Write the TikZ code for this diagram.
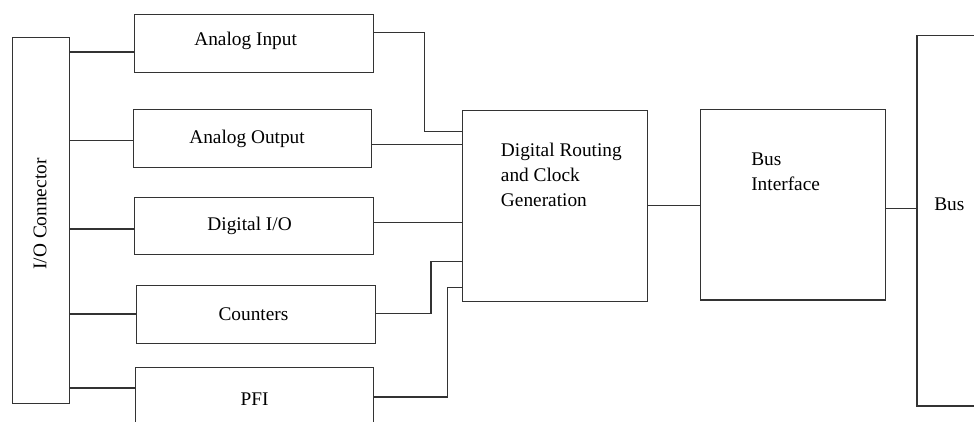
\documentclass[tikz,border=0pt]{standalone}
\usepackage{fontspec}
\setmainfont{Liberation Serif}
\begin{document}
\begin{tikzpicture}[x=0.75pt,y=-0.75pt,
  box/.style={draw=black!80, line width=0.9pt, inner sep=0pt, anchor=north west, font=\fontsize{14.5}{18.75}\selectfont},
  txt/.style={inner sep=0pt, font=\fontsize{14.5}{18.75}\selectfont},
  wire/.style={draw=black!80, line width=0.9pt}]
\useasboundingbox (0,0) rectangle (974,421);
\clip (0,0) rectangle (974,421);
% boxes
\node[box, minimum width=42.75pt, minimum height=274.5pt] (io) at (12,37) {};
\node[txt, rotate=90] (iot) at (40,214) {I/O Connector};
\node[box, minimum width=179.25pt, minimum height=43.5pt,
  label={[txt, xshift=-6pt, yshift=2pt]center:Analog Input}] (ai) at (133.5,14) {};
\node[box, minimum width=178.9pt, minimum height=43.5pt,
  label={[txt, xshift=-4pt]center:Analog Output}] (ao) at (132.5,109) {};
\node[box, minimum width=179.25pt, minimum height=43.1pt,
  label={[txt, xshift=-3pt]center:Digital I/O}] (dio) at (133.5,196.5) {};
\node[box, minimum width=179.25pt, minimum height=43.5pt,
  label={[txt, xshift=-2pt]center:Counters}] (cnt) at (136,285) {};
\node[box, minimum width=178.5pt, minimum height=43.5pt,
  label={[txt, yshift=-2pt]center:PFI}] (pfi) at (135,367) {};
\node[box, minimum width=138.75pt, minimum height=143pt] (dr) at (461.7,110) {};
\node[txt, anchor=north west, align=left] (drt) at (500.7,143) {Digital Routing\\and Clock\\Generation};
\node[box, minimum width=138.75pt, minimum height=143pt] (bi) at (700,108.7) {};
\node[txt, anchor=north west, align=left] (bit) at (751,153) {Bus\\Interface};
\node[box, minimum width=60pt, minimum height=277.95pt] (bus) at (916.3,34.7) {};
\node[txt, anchor=west] (bust) at (934,204) {Bus};
% helper coordinates
\coordinate (h1) at (0,52);
\coordinate (h2) at (0,140.7);
\coordinate (h3) at (0,229);
\coordinate (h4) at (0,314);
\coordinate (h5) at (0,388);
\coordinate (a1) at (0,32.3);
\coordinate (a2) at (424.3,131.7);
\coordinate (b1) at (0,144.3);
\coordinate (d1) at (0,222.3);
\coordinate (c1) at (0,313.7);
\coordinate (c2) at (431,261.3);
\coordinate (p1) at (0,397);
\coordinate (p2) at (447.3,287.3);
\coordinate (r1) at (0,205.7);
\coordinate (s1) at (0,208.3);
% connectors from I/O connector
\draw[wire] (io.east |- h1) -- (ai.west |- h1);
\draw[wire] (io.east |- h2) -- (ao.west |- h2);
\draw[wire] (io.east |- h3) -- (dio.west |- h3);
\draw[wire] (io.east |- h4) -- (cnt.west |- h4);
\draw[wire] (io.east |- h5) -- (pfi.west |- h5);
% connectors to digital routing
\draw[wire] (ai.east |- a1) -| (a2) -- (dr.west |- a2);
\draw[wire] (ao.east |- b1) -- (dr.west |- b1);
\draw[wire] (dio.east |- d1) -- (dr.west |- d1);
\draw[wire] (cnt.east |- c1) -| (c2) -- (dr.west |- c2);
\draw[wire] (pfi.east |- p1) -| (p2) -- (dr.west |- p2);
% to bus
\draw[wire] (dr.east |- r1) -- (bi.west |- r1);
\draw[wire] (bi.east |- s1) -- (bus.west |- s1);
\end{tikzpicture}
\end{document}
